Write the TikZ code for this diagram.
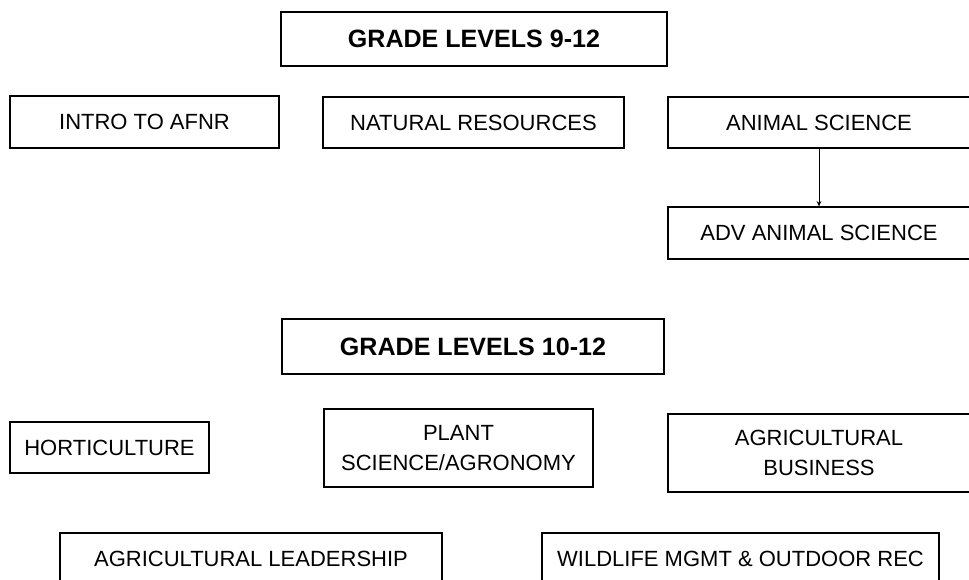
\documentclass[tikz,border=0pt]{standalone}
\usepackage{fontspec}
\setmainfont{Liberation Sans}
\usetikzlibrary{arrows.meta}
\tikzset{
	course/.style={draw, line width=0.9pt, inner sep=0pt, align=center, font=\fontsize{16.5}{22}\selectfont},
	gradebox/.style={course, font=\fontsize{18.8}{22}\selectfont\bfseries},
}
\begin{document}
\begin{tikzpicture}[x=0.75pt,y=0.75pt,yscale=-1,xscale=1]
		\useasboundingbox (0,0) rectangle (969,579);
		\clip (0,0) rectangle (969,579);
		\node [gradebox, minimum width=386*0.75pt, minimum height=54*0.75pt] (gradeA) at (474,39) {GRADE LEVELS 9-12};
		\node [course, minimum width=269*0.75pt, minimum height=52*0.75pt] (intro) at (144.5,122) {INTRO TO AFNR};
		\node [course, minimum width=301*0.75pt, minimum height=51*0.75pt] (natres) at (473.5,122.5) {NATURAL RESOURCES};
		\node [course, minimum width=302*0.75pt, minimum height=51*0.75pt] (animal) at (819,122.5) {ANIMAL SCIENCE};
		\node [course, minimum width=302*0.75pt, minimum height=52*0.75pt] (advanimal) at (819,233) {ADV ANIMAL SCIENCE};
		\draw [line width=0.75pt, -{Stealth[length=4pt,width=3.5pt]}] (animal.south) -- (advanimal.north);
		\node [gradebox, minimum width=382*0.75pt, minimum height=55*0.75pt] (gradeB) at (473,346.5) {GRADE LEVELS 10-12};
		\node [course, minimum width=199*0.75pt, minimum height=51*0.75pt] (hort) at (109.5,447.5) {HORTICULTURE};
		\node [course, minimum width=269*0.75pt, minimum height=78*0.75pt] (plant) at (458.5,448) {PLANT\\SCIENCE/AGRONOMY};
		\node [course, minimum width=302*0.75pt, minimum height=78*0.75pt] (agbus) at (819,453) {AGRICULTURAL\\BUSINESS};
		\node [course, minimum width=382*0.75pt, minimum height=52*0.75pt] (agleader) at (251,559) {AGRICULTURAL LEADERSHIP};
		\node [course, minimum width=397*0.75pt, minimum height=52*0.75pt] (wildlife) at (740.5,559) {WILDLIFE MGMT \& OUTDOOR REC};
\end{tikzpicture}
\end{document}
